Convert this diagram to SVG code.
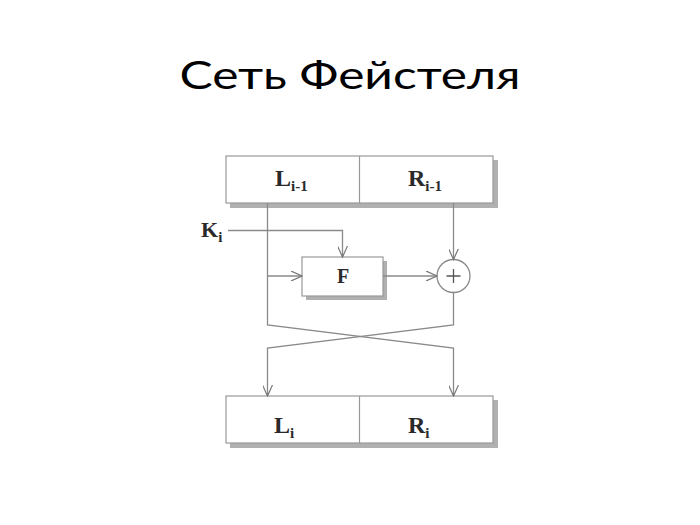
<svg xmlns="http://www.w3.org/2000/svg" width="700" height="525" viewBox="0 0 700 525">
<style>
.title{font-family:Lato,"Noto Sans","Open Sans",sans-serif;font-size:39px;fill:#000}
.lbl{font-family:"Liberation Serif","DejaVu Serif",serif;font-weight:bold;font-size:24px;fill:#2a2a2a}
.sub{font-size:15px}
.box{fill:#fff;stroke:#999;stroke-width:1.2}
.shadow{fill:#b0b0b0}
.ln{fill:none;stroke:#8a8a8a;stroke-width:1.3}
</style>
<defs>
<marker id="arr" markerWidth="12" markerHeight="10" refX="11" refY="5" orient="auto" markerUnits="userSpaceOnUse">
<path d="M0,0 L11,5 L0,10" fill="none" stroke="#777" stroke-width="1.2"/>
</marker>
</defs>
<rect width="700" height="525" fill="#fff"/>
<text class="title" x="350" y="89" text-anchor="middle" textLength="341" lengthAdjust="spacingAndGlyphs">Сеть Фейстеля</text>
<g id="top">
<rect class="shadow" x="230" y="160" width="268" height="48"/>
<rect class="box" x="226" y="156" width="267" height="47"/>
<line x1="359.5" y1="156" x2="359.5" y2="203" stroke="#999" stroke-width="1.2"/>
<text class="lbl" x="275" y="186">L<tspan class="sub" dy="5">i-1</tspan></text>
<text class="lbl" x="408" y="186">R<tspan class="sub" dy="5">i-1</tspan></text>
</g>
<g id="bottom">
<rect class="shadow" x="230" y="400" width="268" height="48"/>
<rect class="box" x="226" y="396" width="267" height="47"/>
<line x1="359.5" y1="396" x2="359.5" y2="443" stroke="#999" stroke-width="1.2"/>
<text class="lbl" x="274" y="433">L<tspan class="sub" dy="5">i</tspan></text>
<text class="lbl" x="408" y="433">R<tspan class="sub" dy="5">i</tspan></text>
</g>
<g id="key">
<text class="lbl" x="201" y="237" style="font-size:22px">K<tspan class="sub" dy="5">i</tspan></text>
</g>
<g id="F">
<rect class="shadow" x="306" y="261" width="81" height="39"/>
<rect class="box" x="302" y="257" width="81" height="39"/>
<text class="lbl" x="343" y="283" text-anchor="middle" style="font-size:20px">F</text>
</g>
<g id="xor">
<circle cx="453.5" cy="276" r="16.5" fill="#fff" stroke="#888" stroke-width="1.3"/>
<path d="M453.5,269 V283 M446.5,276 H460.5" stroke="#555" stroke-width="1.3"/>
</g>
<g id="connectors">
<path class="ln" d="M228,230.5 H342.5 V257" marker-end="url(#arr)"/>
<path class="ln" d="M267.5,203 V276 H302" marker-end="url(#arr)"/>
<path class="ln" d="M383,276 H437" marker-end="url(#arr)"/>
<path class="ln" d="M453.5,203 V259.5" marker-end="url(#arr)"/>
<path class="ln" d="M267.5,276 V325 L453.5,348 V396" marker-end="url(#arr)"/>
<path class="ln" d="M453.5,292.5 V325 L267.5,348 V396" marker-end="url(#arr)"/>
</g>
</svg>
